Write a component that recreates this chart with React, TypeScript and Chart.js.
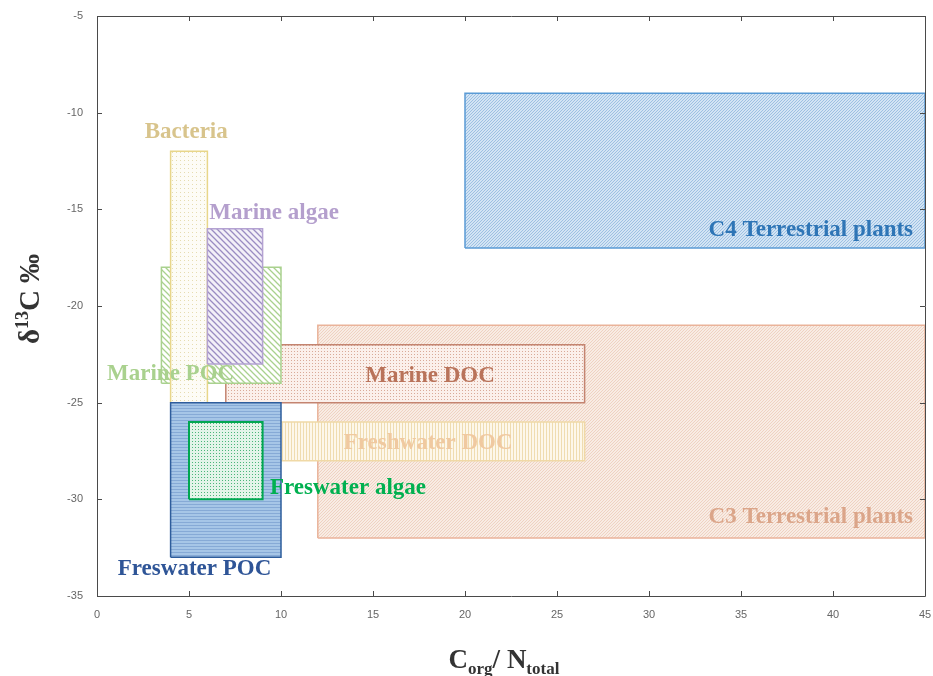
import React, { useEffect, useRef } from "react";
import { Chart, registerables } from "chart.js";
Chart.register(...registerables);

// Regions (drawn top-most first)
const names = ["Freswater algae", "Freswater POC", "Marine algae", "Bacteria", "Marine POC", "Freshwater DOC", "Marine DOC", "C3 Terrestrial plants", "C4 Terrestrial plants"];
const xMin = [5, 4, 6, 4, 3.5, 6, 7, 12, 20];
const xMax = [9, 10, 9, 6, 10, 26.5, 26.5, 45, 45];
const yMin = [-30, -33, -23, -25, -24, -28, -25, -32, -17];
const yMax = [-26, -25, -16, -12, -18, -26, -22, -21, -9];

// Label anchors (data units)
const labelX = [9.4, 5.3, 6.1, 4.85, 4.0, 18.0, 18.1, 44.35, 44.35];
const labelY = [-29.4, -33.6, -15.2, -11.0, -23.5, -27.1, -23.6, -30.9, -16.05];
const labelAlign = ["left", "center", "left", "center", "center", "center", "center", "right", "right"];

const xTicks = [0, 5, 10, 15, 20, 25, 30, 35, 40, 45];
const yTicks = [-35, -30, -25, -20, -15, -10, -5];

const borderColors = ["#00a651", "#2e5d9c", "#b4a2d2", "#e8d68a", "#a9d18e", "#f0d9a6", "#c48470", "#eab39a", "#5b9bd5"];
const borderWidths = [2, 1.5, 1.5, 1.5, 1.5, 1.5, 1.5, 1.5, 1.5];
const labelColors = ["#00b050", "#2f5597", "#b49fcd", "#d8c48c", "#a9d18e", "#f0c9a0", "#b9735a", "#dba589", "#2e75b6"];

type Pat = { bg: string; fg: string; kind: string; s: number; lw: number };
const patterns: Pat[] = [
  { bg: "#e3f4e9", fg: "#4cb67a", kind: "dots", s: 3, lw: 1 },
  { bg: "#a6c6e7", fg: "#86aad6", kind: "horiz", s: 3, lw: 1 },
  { bg: "#f3f0f8", fg: "#9a8cc2", kind: "back", s: 6, lw: 1.3 },
  { bg: "#fdfcf6", fg: "#e6dcb0", kind: "dots", s: 4, lw: 1 },
  { bg: "#ffffff", fg: "#a9d18e", kind: "back", s: 6, lw: 1.3 },
  { bg: "#fdf7ea", fg: "#efdcb0", kind: "vert", s: 3, lw: 1 },
  { bg: "#fbf0eb", fg: "#d9aa98", kind: "dots", s: 3, lw: 1 },
  { bg: "#f8ece4", fg: "#efd2c2", kind: "diag", s: 3, lw: 1 },
  { bg: "#d3e4f4", fg: "#9dc0e2", kind: "diag", s: 3, lw: 1 },
];

function makePattern(p: Pat): CanvasPattern | string {
  const c = document.createElement("canvas");
  c.width = p.s;
  c.height = p.s;
  const g = c.getContext("2d");
  if (!g) return p.bg;
  const s = p.s;
  g.fillStyle = p.bg;
  g.fillRect(0, 0, s, s);
  g.strokeStyle = p.fg;
  g.fillStyle = p.fg;
  g.lineWidth = p.lw;
  if (p.kind === "diag") {
    g.beginPath();
    g.moveTo(-1, s + 1); g.lineTo(s + 1, -1);
    g.moveTo(-1, 1); g.lineTo(1, -1);
    g.moveTo(s - 1, s + 1); g.lineTo(s + 1, s - 1);
    g.stroke();
  } else if (p.kind === "back") {
    g.beginPath();
    g.moveTo(-1, -1); g.lineTo(s + 1, s + 1);
    g.moveTo(-1, s - 1); g.lineTo(1, s + 1);
    g.moveTo(s - 1, -1); g.lineTo(s + 1, 1);
    g.stroke();
  } else if (p.kind === "vert") {
    g.fillRect(0, 0, p.lw, s);
  } else if (p.kind === "horiz") {
    g.fillRect(0, 0, s, p.lw);
  } else if (p.kind === "dots") {
    g.fillRect(0, 0, 1, 1);
  }
  return g.createPattern(c, "repeat") || p.bg;
}

const overlay = {
  id: "overlay",
  afterDatasetsDraw(chart: any) {
    const ctx = chart.ctx;
    const xs = chart.scales.x;
    const ys = chart.scales.y;
    ctx.save();
    ctx.font = 'bold 23px "Liberation Serif"';
    ctx.textBaseline = "middle";
    for (let i = 0; i < names.length; i++) {
      ctx.fillStyle = labelColors[i];
      ctx.textAlign = labelAlign[i];
      ctx.fillText(names[i], xs.getPixelForValue(labelX[i]), ys.getPixelForValue(labelY[i]));
    }
    ctx.restore();
  },
  afterDraw(chart: any) {
    const ctx = chart.ctx;
    const a = chart.chartArea;
    const xs = chart.scales.x;
    const ys = chart.scales.y;
    ctx.save();
    ctx.strokeStyle = "#4a4a4a";
    ctx.lineWidth = 1;
    ctx.beginPath();
    ctx.rect(Math.round(a.left) + 0.5, Math.round(a.top) + 0.5, Math.round(a.right - a.left), Math.round(a.bottom - a.top));
    ctx.stroke();
    ctx.beginPath();
    const tl = 5;
    for (const v of xTicks) {
      const px = Math.round(xs.getPixelForValue(v)) + 0.5;
      ctx.moveTo(px, a.bottom); ctx.lineTo(px, a.bottom - tl);
      ctx.moveTo(px, a.top); ctx.lineTo(px, a.top + tl);
    }
    for (const v of yTicks) {
      const py = Math.round(ys.getPixelForValue(v)) + 0.5;
      ctx.moveTo(a.left, py); ctx.lineTo(a.left + tl, py);
      ctx.moveTo(a.right, py); ctx.lineTo(a.right - tl, py);
    }
    ctx.stroke();

    // Axis titles
    ctx.fillStyle = "#333";
    ctx.textBaseline = "alphabetic";
    ctx.textAlign = "left";
    const big = 'bold 27px "Liberation Serif"';
    const small = 'bold 17px "Liberation Serif"';
    const parts: [string, string, number][] = [
      ["C", big, 0], ["org", small, 6], ["/ ", big, 0], ["N", big, 0], ["total", small, 6],
    ];
    let total = 0;
    for (const [t, f] of parts) { ctx.font = f; total += ctx.measureText(t).width; }
    let x = 504 - total / 2;
    const baseY = 668;
    for (const [t, f, dy] of parts) {
      ctx.font = f;
      ctx.fillText(t, x, baseY + dy);
      x += ctx.measureText(t).width;
    }
    // y title: δ13C ‰ rotated
    const ybig = 'bold 29px "Liberation Serif"';
    const ysmall = 'bold 18px "Liberation Serif"';
    ctx.translate(39, 299);
    ctx.rotate(-Math.PI / 2);
    const yparts: [string, string, number][] = [
      ["δ", ybig, 0], ["13", ysmall, -11], ["C ‰", ybig, 0],
    ];
    total = 0;
    for (const [t, f] of yparts) { ctx.font = f; total += ctx.measureText(t).width; }
    x = -total / 2;
    for (const [t, f, dy] of yparts) {
      ctx.font = f;
      ctx.fillText(t, x, dy);
      x += ctx.measureText(t).width;
    }
    ctx.restore();
  },
};

export default function App() {
  const ref = useRef<HTMLCanvasElement | null>(null);
  useEffect(() => {
    if (!ref.current) return;
    const datasets: any[] = [];
    for (let i = 0; i < names.length; i++) {
      datasets.push({
        label: names[i] + " fill",
        data: [{ x: xMin[i], y: yMax[i] }, { x: xMax[i], y: yMax[i] }],
        fill: { value: yMin[i] },
        backgroundColor: makePattern(patterns[i]),
        borderWidth: 0,
        borderColor: "rgba(0,0,0,0)",
        pointRadius: 0,
        order: 2 * i + 1,
      });
      datasets.push({
        label: names[i],
        data: [
          { x: xMin[i], y: yMin[i] },
          { x: xMax[i], y: yMin[i] },
          { x: xMax[i], y: yMax[i] },
          { x: xMin[i], y: yMax[i] },
          { x: xMin[i], y: yMin[i] },
        ],
        fill: false,
        borderColor: borderColors[i],
        borderWidth: borderWidths[i],
        pointRadius: 0,
        tension: 0,
        order: 2 * i,
      });
    }
    const chart = new Chart(ref.current, {
      type: "line",
      data: { datasets },
      options: {
        animation: false,
        responsive: false,
        devicePixelRatio: 1,
        layout: { padding: { left: 0, right: 8, top: 16, bottom: 0 } },
        plugins: { legend: { display: false }, tooltip: { enabled: false } },
        scales: {
          x: {
            type: "linear",
            min: 0,
            max: 45,
            afterFit: (s: any) => { s.height = 80; s.paddingLeft = 0; s.paddingRight = 0; },
            afterBuildTicks: (s: any) => { s.ticks = xTicks.map((v) => ({ value: v })); },
            grid: { display: false },
            border: { display: false },
            ticks: { font: { family: '"Liberation Sans"', size: 11 }, color: "#666", padding: 4, maxRotation: 0 },
          },
          y: {
            type: "linear",
            min: -35,
            max: -5,
            afterFit: (s: any) => { s.width = 97; s.paddingTop = 0; s.paddingBottom = 0; },
            afterBuildTicks: (s: any) => { s.ticks = yTicks.map((v) => ({ value: v })); },
            grid: { display: false },
            border: { display: false },
            ticks: { font: { family: '"Liberation Sans"', size: 11 }, color: "#666", padding: 6 },
          },
        },
      },
      plugins: [overlay],
    } as any);
    return () => chart.destroy();
  }, []);
  return (
    <div style={{ position: "fixed", left: 0, top: 0, width: 933, height: 676, background: "#fff" }}>
      <canvas ref={ref} width={933} height={676} style={{ width: 933, height: 676, display: "block" }} />
    </div>
  );
}
